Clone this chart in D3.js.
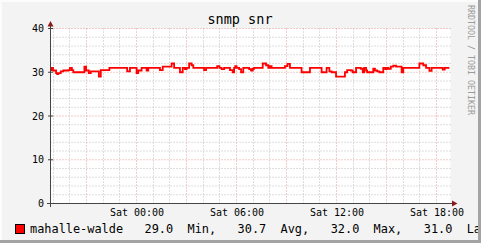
<!DOCTYPE html>
<html>
<head>
<meta charset="utf-8">
<script src="https://cdn.jsdelivr.net/npm/d3@7/dist/d3.min.js"></script>
<style>
  html, body { margin: 0; padding: 0; background: #F3F3F3; }
  svg { display: block; }
  text { font-family: "DejaVu Sans Mono", monospace; }
</style>
</head>
<body>
<svg id="chart" width="481" height="243"></svg>
<script>
// ---- data ----
const title = "snmp snr";
const watermark = "RRDTOOL / TOBI OETIKER";
const seriesName = "mahalle-walde";
const startISO = "2024-01-05T18:50:24Z";   // Fri evening, window of 24 h
const spanHours = 24;
// step starts, minutes after start
const stepOffsets = [0, 5, 9, 20, 24, 28, 37, 46, 64, 70, 77, 82, 122, 128, 138, 145, 174, 181, 212, 276, 286, 310, 316, 328, 346, 352, 394, 404, 436, 445,
  466, 476, 484, 490, 499, 508, 514, 553, 560, 600, 608, 616, 625, 646, 656, 661, 665, 670, 679, 686, 694, 715, 722, 728, 733, 764, 776, 784, 790, 796, 844, 853, 862, 904, 934,
  970, 976, 994, 1004, 1012, 1028, 1060, 1068, 1081, 1088, 1100, 1117, 1124, 1129, 1136, 1140, 1162, 1168, 1176, 1184, 1198, 1205, 1210, 1216, 1225, 1234, 1244, 1264, 1270, 1328, 1342, 1352, 1364, 1372, 1412, 1419];
const stepValues = [30.5, 31.0, 30.4, 29.8, 29.6, 29.8, 30.2, 30.4, 30.5, 31.0, 30.5, 30.0, 31.3, 30.4, 29.8, 30.2, 29.0, 30.5, 31.0, 30.2, 31.0, 29.8, 30.4, 31.0, 30.4, 31.0, 30.5, 31.3, 32.0, 31.0,
  30.0, 31.0, 30.7, 31.0, 32.0, 31.6, 31.0, 30.5, 31.0, 31.4, 31.0, 30.7, 31.0, 30.5, 30.0, 31.0, 31.4, 31.0, 30.7, 30.0, 31.0, 30.7, 30.4, 30.8, 31.0, 32.0, 31.6, 31.0, 31.4, 31.0, 31.4, 31.9, 31.0, 30.0, 31.0,
  31.0, 30.0, 31.0, 30.2, 30.0, 29.0, 30.0, 30.5, 30.4, 30.0, 31.0, 30.8, 30.0, 31.0, 30.4, 30.0, 30.8, 30.4, 30.2, 30.0, 31.0, 30.7, 31.0, 30.8, 31.3, 31.5, 31.3, 30.0, 31.0, 32.0, 31.6, 31.0, 30.3, 31.0, 30.6, 31.0];
const lastOffset = 1436;
const yTicks = [0, 10, 20, 30, 40];
const legendStats = ["29.0", "30.7", "32.0", "31.0"];
const legendLabels = ["Min,", "Avg,", "Max,", "Last"];

// ---- layout ----
const W = 481, H = 243;
const plot = { left: 50.5, right: 450.5, top: 28.5, bottom: 203.5 };
const start = new Date(startISO);
const end = new Date(+start + spanHours * 3600e3);

const svg = d3.select("#chart");
svg.append("rect").attr("width", W).attr("height", H).attr("fill", "#F3F3F3");

const x = d3.scaleUtc().domain([start, end]).range([plot.left, plot.right]);
const y = d3.scaleLinear().domain([0, 40]).range([plot.bottom, plot.top]);

// canvas
svg.append("rect").attr("x", plot.left).attr("y", plot.top)
  .attr("width", plot.right - plot.left).attr("height", plot.bottom - plot.top)
  .attr("fill", "#FFFFFF");

// grid
const g = svg.append("g");
const minorY = d3.range(0, 41, 2).filter(v => v % 10 !== 0);
const majorY = yTicks.filter(v => v > 0);
g.selectAll(".hminor").data(minorY).join("line")
  .attr("x1", plot.left).attr("x2", plot.right)
  .attr("y1", d => y(d)).attr("y2", d => y(d))
  .attr("stroke", "#BDBDBD").attr("stroke-dasharray", "1,2");
const hours = d3.utcHour.every(1).range(start, end);
const minorX = hours.filter(d => d.getUTCHours() % 3 !== 0);
const majorX = hours.filter(d => d.getUTCHours() % 3 === 0);
g.selectAll(".vminor").data(minorX).join("line")
  .attr("x1", d => Math.floor(x(d)) + 0.5).attr("x2", d => Math.floor(x(d)) + 0.5)
  .attr("y1", plot.top).attr("y2", plot.bottom)
  .attr("stroke", "#BDBDBD").attr("stroke-dasharray", "1,2");
g.selectAll(".hmajor").data(majorY).join("line")
  .attr("x1", plot.left).attr("x2", plot.right)
  .attr("y1", d => y(d)).attr("y2", d => y(d))
  .attr("stroke", "#E29A9A").attr("stroke-dasharray", "1,2");
g.selectAll(".vmajor").data(majorX).join("line")
  .attr("x1", d => Math.floor(x(d)) + 0.5).attr("x2", d => Math.floor(x(d)) + 0.5)
  .attr("y1", plot.top).attr("y2", plot.bottom)
  .attr("stroke", "#E29A9A").attr("stroke-dasharray", "1,2");

// data line
const pts = stepOffsets.map((t, i) => ({ t: new Date(+start + t * 60e3), v: stepValues[i] }));
pts.push({ t: new Date(+start + lastOffset * 60e3), v: stepValues[stepValues.length - 1] });
const line = d3.line().x(d => x(d.t)).y(d => y(d.v)).curve(d3.curveStepAfter);
svg.append("path").datum(pts).attr("d", line)
  .attr("fill", "none").attr("stroke", "#FF0000").attr("stroke-width", 1.8);

// axes lines + arrows
const axisColor = "#454545";
svg.append("line").attr("x1", 47).attr("x2", 453).attr("y1", plot.bottom).attr("y2", plot.bottom)
  .attr("stroke", axisColor);
svg.append("line").attr("x1", plot.left).attr("x2", plot.left).attr("y1", 207).attr("y2", 24)
  .attr("stroke", axisColor);
svg.append("path").attr("d", "M50.5,21 L47.5,26.5 L53.5,26.5 Z").attr("fill", "#8B1A1A");
svg.append("path").attr("d", "M457.5,203.5 L452,200.5 L452,206.5 Z").attr("fill", "#8B1A1A");

// small ticks at major y grid
svg.selectAll(".yt").data(yTicks).join("line")
  .attr("x1", 48).attr("x2", 53).attr("y1", d => y(d)).attr("y2", d => y(d))
  .attr("stroke", axisColor);

// y labels
const yAxis = d3.axisLeft(y).tickValues(yTicks).tickSize(0).tickPadding(6.5).tickFormat(d3.format("d"));
const ya = svg.append("g").attr("transform", `translate(${plot.left},0)`).call(yAxis);
ya.select(".domain").remove();
ya.selectAll("text").attr("font-family", "DejaVu Sans Mono").attr("font-size", "10px").attr("fill", "#000");

// x labels
const xAxis = d3.axisBottom(x).tickValues(d3.utcHour.every(6).range(start, end))
  .tickSize(0).tickPadding(5.4).tickFormat(d3.utcFormat("%a %H:%M"));
const xa = svg.append("g").attr("transform", `translate(0,${plot.bottom})`).call(xAxis);
xa.select(".domain").remove();
xa.selectAll("text").attr("font-family", "DejaVu Sans Mono").attr("font-size", "10px").attr("fill", "#000");

// title
svg.append("text").attr("x", 240).attr("y", 24).attr("text-anchor", "middle")
  .attr("font-size", "13.5px").attr("fill", "#000").text(title);

// watermark
svg.append("text").attr("transform", "translate(468,5) rotate(90)")
  .attr("font-size", "8.3px").attr("fill", "#9A9A9A").text(watermark);

// legend
svg.append("rect").attr("x", 15.5).attr("y", 224.5).attr("width", 9).attr("height", 9)
  .attr("fill", "#FF0000").attr("stroke", "#000");
let legendStr = seriesName + "   ";
legendStats.forEach((s, i) => {
  legendStr += s + "  " + legendLabels[i] + (i < legendStats.length - 1 ? "   " : "");
});
svg.append("text").attr("x", 30).attr("y", 233).attr("font-size", "11.9px")
  .attr("fill", "#000").style("white-space", "pre").text(legendStr);

// frame shading
svg.append("rect").attr("x", 0).attr("y", 0).attr("width", W).attr("height", 2).attr("fill", "#FCFCFC");
svg.append("rect").attr("x", 0).attr("y", 0).attr("width", 2).attr("height", H).attr("fill", "#FCFCFC");
svg.append("rect").attr("x", W - 3).attr("y", 0).attr("width", 3).attr("height", H).attr("fill", "#A3A3A3");
svg.append("rect").attr("x", 0).attr("y", H - 3).attr("width", W).attr("height", 3).attr("fill", "#A3A3A3");
</script>
</body>
</html>
